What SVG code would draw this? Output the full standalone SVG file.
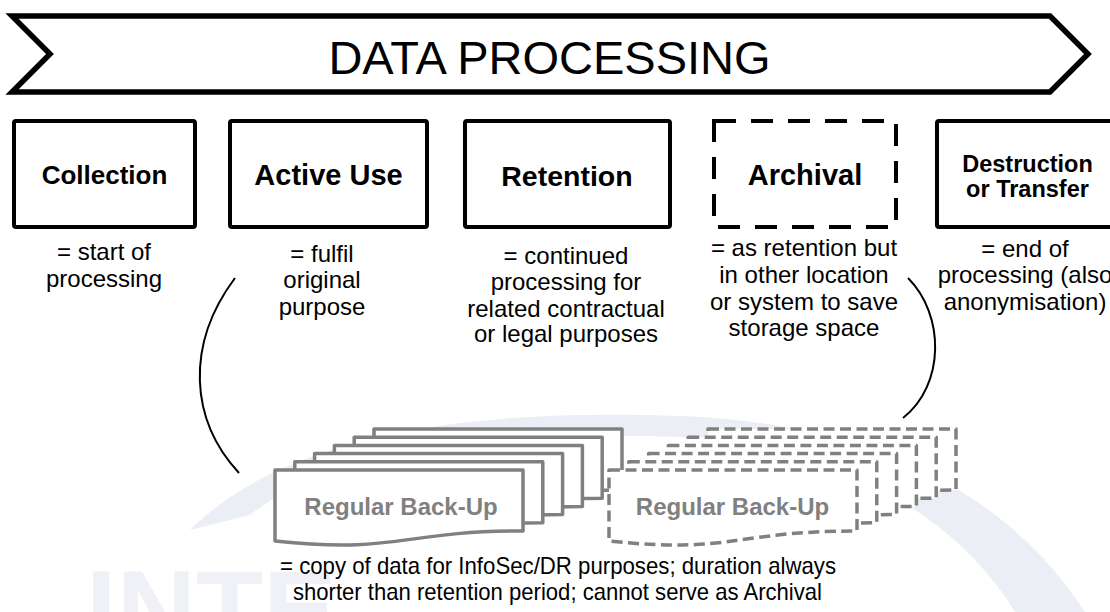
<svg xmlns="http://www.w3.org/2000/svg" width="1110" height="612" viewBox="0 0 1110 612">
<defs>
<style>
text{font-family:"Liberation Sans",Arial,Helvetica,sans-serif}
.box{fill:#fff;stroke:#000;stroke-width:4}
.dash{stroke-dasharray:22 15}
.t{font-weight:bold;text-anchor:middle;fill:#000}
.d{font-size:24px;text-anchor:middle;fill:#000}
.doc{fill:#fff;stroke:#808080;stroke-width:3.5;stroke-linejoin:round}
.docd{stroke-dasharray:11 5.5}
.bu{font-size:24px;font-weight:bold;fill:#808080;text-anchor:middle}
.arc{fill:none;stroke:#000;stroke-width:2}
.wm{fill:#eceef5}
.wmt{fill:#eff1f6;font-size:110px;font-weight:bold}
</style>
<path id="doc" d="M0,0 H248 V61 C124,61 124,84.2 0,71 Z"/>
</defs>
<rect width="1110" height="612" fill="#fff"/>
<g id="watermark">
<path class="wm" d="M190,530 C300,420 520,410 680,416 C850,422 1000,480 1085,612 L1015,612 C960,520 840,445 680,437 C500,430 330,450 250,515 Z"/>
<text class="wmt" x="86" y="647">INTE</text>
</g>
<g id="banner">
<path d="M12,16 H1050 L1088,54 L1050,92 H12 L50,54 Z" fill="#fff" stroke="#000" stroke-width="5.5"/>
<text x="549.5" y="74" font-size="47" text-anchor="middle" fill="#000">DATA PROCESSING</text>
</g>
<g id="collection">
<rect class="box" x="14" y="121" width="181" height="106" rx="2"/>
<text class="t" x="104.5" y="184" font-size="26">Collection</text>
<text class="d"><tspan x="104" y="260">= start of</tspan><tspan x="104" y="287">processing</tspan></text>
</g>
<g id="active-use">
<rect class="box" x="230" y="121" width="197" height="106" rx="2"/>
<text class="t" x="328.5" y="185" font-size="29">Active Use</text>
<text class="d"><tspan x="322" y="262">= fulfil</tspan><tspan x="322" y="288">original</tspan><tspan x="322" y="315">purpose</tspan></text>
</g>
<g id="retention">
<rect class="box" x="465" y="121" width="205" height="106" rx="2"/>
<text class="t" x="567" y="186" font-size="28.5">Retention</text>
<text class="d"><tspan x="566" y="264">= continued</tspan><tspan x="566" y="290">processing for</tspan><tspan x="566" y="317">related contractual</tspan><tspan x="566" y="342">or legal purposes</tspan></text>
</g>
<g id="archival">
<rect class="box dash" x="714" y="121" width="182" height="106"/>
<text class="t" x="805" y="185" font-size="29">Archival</text>
<text class="d"><tspan x="804" y="256">= as retention but</tspan><tspan x="804" y="283">in other location</tspan><tspan x="804" y="310">or system to save</tspan><tspan x="804" y="336">storage space</tspan></text>
</g>
<g id="destruction">
<rect class="box" x="937" y="121" width="181" height="106" rx="2"/>
<text class="t" font-size="23.5"><tspan x="1027.5" y="172">Destruction</tspan><tspan x="1027.5" y="197">or Transfer</tspan></text>
<text class="d"><tspan x="1025" y="257">= end of</tspan><tspan x="1025" y="283">processing (also</tspan><tspan x="1025" y="310">anonymisation)</tspan></text>
</g>
<g id="backup-regular">
<use href="#doc" class="doc" transform="translate(374,429)"/>
<use href="#doc" class="doc" transform="translate(354.2,437.2)"/>
<use href="#doc" class="doc" transform="translate(334.4,445.4)"/>
<use href="#doc" class="doc" transform="translate(314.6,453.6)"/>
<use href="#doc" class="doc" transform="translate(294.8,461.8)"/>
<use href="#doc" class="doc" transform="translate(275,470)"/>
<text class="bu" x="401" y="515">Regular Back-Up</text>
</g>
<g id="backup-archive">
<use href="#doc" class="doc docd" transform="translate(708,429)"/>
<use href="#doc" class="doc docd" transform="translate(688.2,437.2)"/>
<use href="#doc" class="doc docd" transform="translate(668.4,445.4)"/>
<use href="#doc" class="doc docd" transform="translate(648.6,453.6)"/>
<use href="#doc" class="doc docd" transform="translate(628.8,461.8)"/>
<use href="#doc" class="doc docd" transform="translate(609,470)"/>
<text class="bu" x="732.5" y="515">Regular Back-Up</text>
</g>
<g id="backup-note">
<text class="d" x="558" y="574" textLength="556" lengthAdjust="spacingAndGlyphs">= copy of data for InfoSec/DR purposes; duration always</text>
<text class="d" x="557.5" y="600" textLength="529" lengthAdjust="spacingAndGlyphs">shorter than retention period; cannot serve as Archival</text>
</g>
<g id="connectors">
<path class="arc" d="M235,278 C185,345 190,420 239,473"/>
<path class="arc" d="M908,278 C945,315 945,385 903,418"/>
</g>
</svg>
